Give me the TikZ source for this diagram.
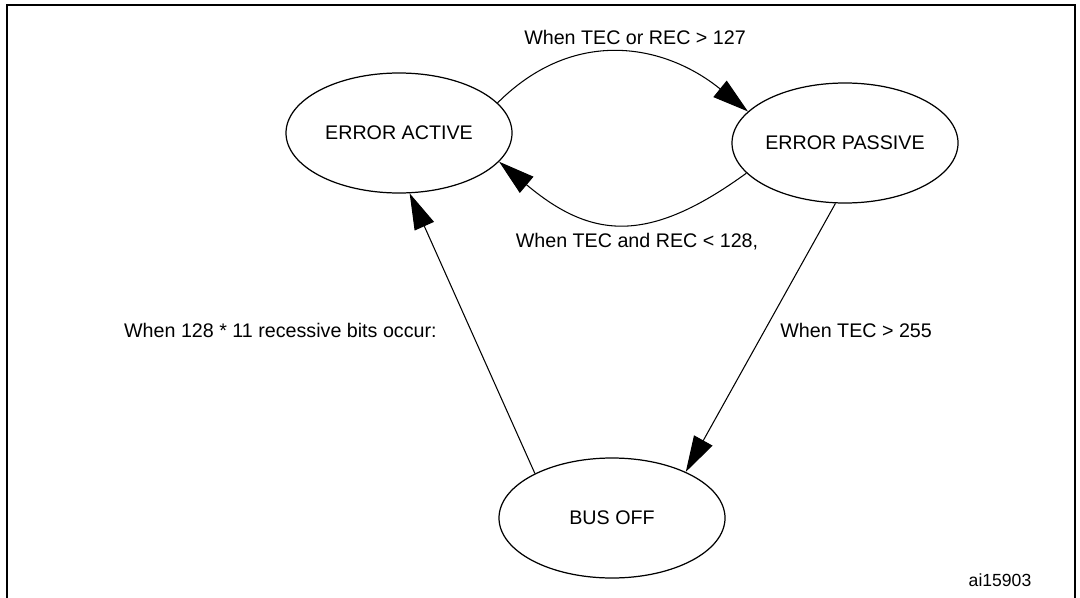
\documentclass[tikz,border=0pt]{standalone}
\usepackage{fontspec}
\setmainfont{Liberation Sans}
\usetikzlibrary{shapes.geometric,arrows.meta,positioning}

\tikzset{
  state/.style={draw, ellipse, line width=0.7pt, minimum width=4.52cm, minimum height=2.4cm, inner sep=0pt, font=\fontsize{11.2}{13}\selectfont},
  trans/.style={-{Triangle[length=7.2mm,width=4.2mm]}, line width=0.6pt},
  lbl/.style={inner sep=0pt, font=\fontsize{11.2}{13}\selectfont}
}

\begin{document}
\begin{tikzpicture}[x=0.2mm,y=0.2mm]
        \useasboundingbox (0,0) rectangle (1080,-597);
        \draw[line width=0.8pt] (7,-610) -- (7,-5) -- (1075,-5) -- (1075,-610);

        \node (active)[state] at (399,-133) {ERROR ACTIVE};
        \node (passive)[state] at (845,-143) {ERROR PASSIVE};
        \node (busoff)[state] at (612,-518) {BUS OFF};

        \draw [trans] (active.17) to[out=45,in=141,looseness=1.1] (passive.162);
        \draw [trans] (passive.-163) to[out=-144,in=-40,looseness=1.25] (active.-16);
        \draw [trans] (passive.-99) -- (busoff.32);
        \draw [trans] (busoff.150) -- (active.-80);

        \node (uplbl)[lbl] at (635,-37) {When TEC or REC > 127};
        \node (downlbl)[lbl] at (637,-242) {When TEC and REC < 128,};
        \node (recovlbl)[lbl, anchor=east] at (437,-330) {When 128 * 11 recessive bits occur:};
        \node (offlbl)[lbl, anchor=west] at (780,-330) {When TEC > 255};
        \node (figid)[font=\fontsize{10}{12}\selectfont, inner sep=0pt] at (1000,-580) {ai15903};
    \end{tikzpicture}
\end{document}
